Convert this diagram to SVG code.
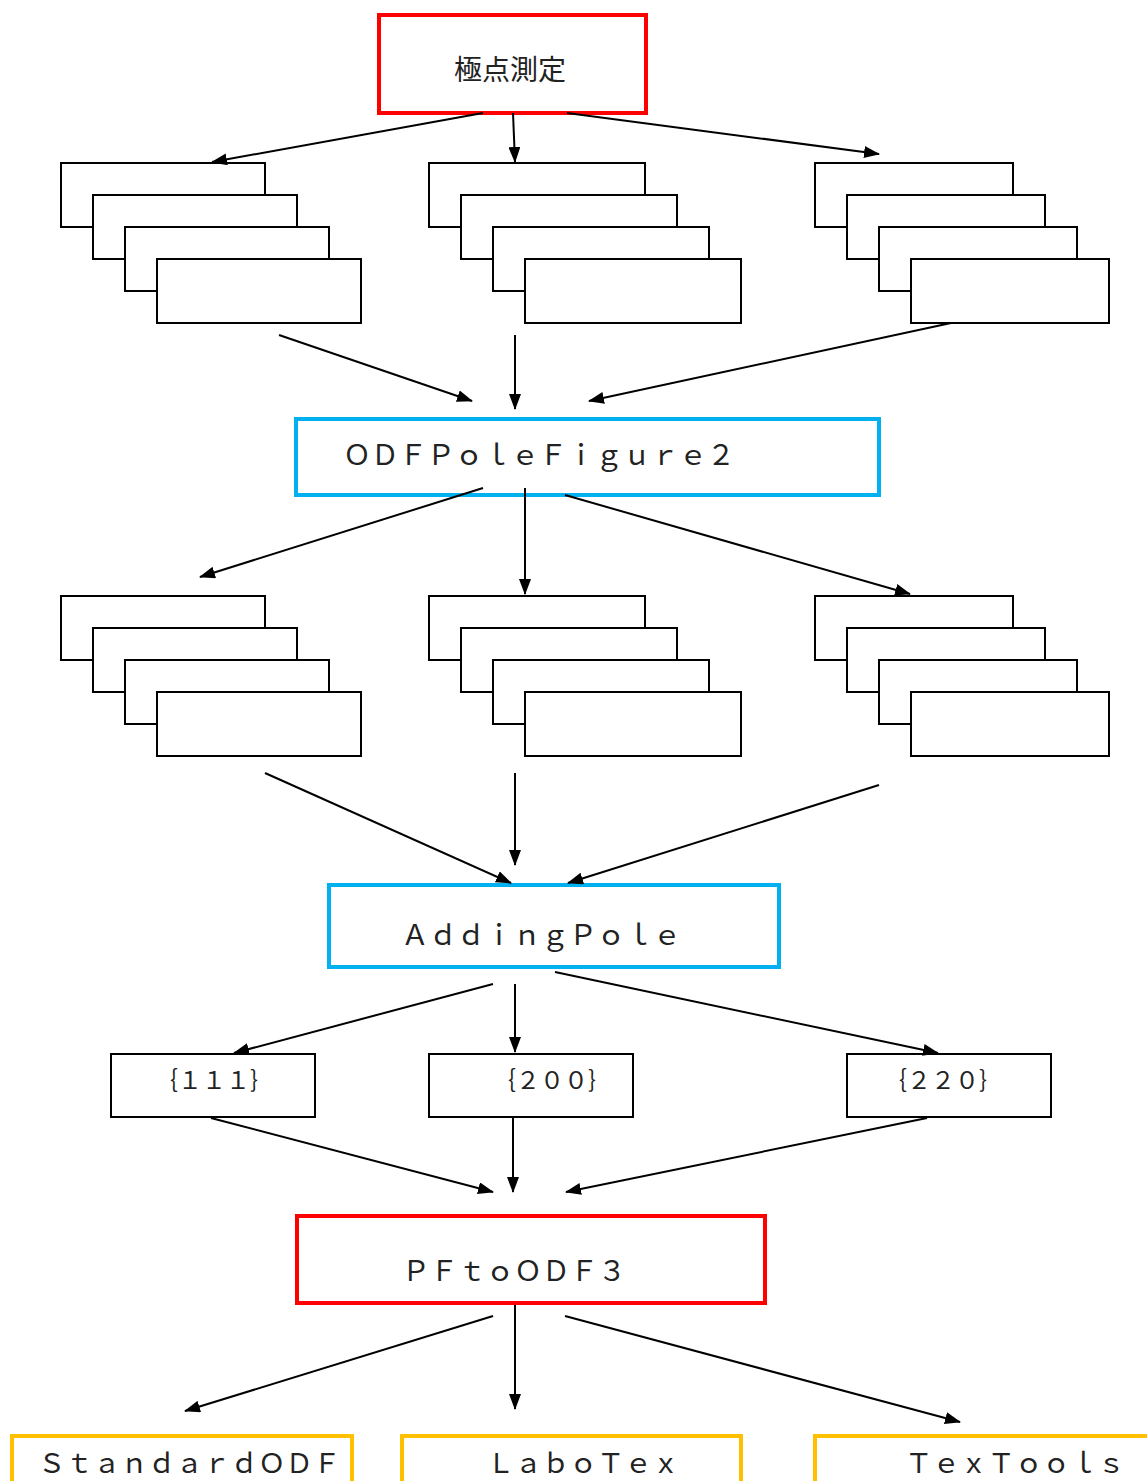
<svg xmlns="http://www.w3.org/2000/svg" width="1147" height="1481" viewBox="0 0 1147 1481">
<style>
text{font-family:"Noto Sans CJK JP","Liberation Serif",serif;fill:#222;}
.t{font-size:28px;}
.s{font-size:24px;}
.red{fill:#fff;stroke:#ff0000;stroke-width:4;}
.blue{fill:#fff;stroke:#00b0f0;stroke-width:4;}
.yel{fill:#fff;stroke:#ffc000;stroke-width:4;}
.bx{fill:#fff;stroke:#000;stroke-width:2;}
.c{stroke:#000;stroke-width:2;fill:none;marker-end:url(#ah);}
</style>
<defs>
<marker id="ah" markerUnits="userSpaceOnUse" markerWidth="16" markerHeight="12" refX="15" refY="6" orient="auto">
<path d="M0,0 L16,6 L0,12 Z" fill="#000"/>
</marker>
<g id="stackA">
<rect class="bx" x="0" y="0" width="204" height="64"/>
<rect class="bx" x="32" y="32" width="204" height="64"/>
<rect class="bx" x="64" y="64" width="204" height="64"/>
<rect class="bx" x="96" y="96" width="204" height="64"/>
</g>
<g id="stackB">
<rect class="bx" x="0" y="0" width="216" height="64"/>
<rect class="bx" x="32" y="32" width="216" height="64"/>
<rect class="bx" x="64" y="64" width="216" height="64"/>
<rect class="bx" x="96" y="96" width="216" height="64"/>
</g>
<g id="stackC">
<rect class="bx" x="0" y="0" width="198" height="64"/>
<rect class="bx" x="32" y="32" width="198" height="64"/>
<rect class="bx" x="64" y="64" width="198" height="64"/>
<rect class="bx" x="96" y="96" width="198" height="64"/>
</g>
</defs>
<rect width="1147" height="1481" fill="#fff"/>

<g id="n-kyokuten"><rect class="red" x="379" y="15" width="267" height="98"/><text class="t" x="454" y="80">極点測定</text></g>

<g id="n-stack1a"><use href="#stackA" x="61" y="163"/></g>
<g id="n-stack1b"><use href="#stackB" x="429" y="163"/></g>
<g id="n-stack1c"><use href="#stackC" x="815" y="163"/></g>

<g id="n-odfpf"><rect class="blue" x="296" y="419" width="583" height="76"/><text class="t" x="343" y="465">ＯＤＦＰｏｌｅＦｉｇｕｒｅ２</text></g>

<g id="n-stack2a"><use href="#stackA" x="61" y="596"/></g>
<g id="n-stack2b"><use href="#stackB" x="429" y="596"/></g>
<g id="n-stack2c"><use href="#stackC" x="815" y="596"/></g>

<g id="n-adding"><rect class="blue" x="329" y="885" width="450" height="82"/><text class="t" x="401" y="945">ＡｄｄｉｎｇＰｏｌｅ</text></g>

<g id="n-111"><rect class="bx" x="111" y="1054" width="204" height="63"/><text class="s" x="154" y="1089">｛１１１｝</text></g>
<g id="n-200"><rect class="bx" x="429" y="1054" width="204" height="63"/><text class="s" x="492" y="1089">｛２００｝</text></g>
<g id="n-220"><rect class="bx" x="847" y="1054" width="204" height="63"/><text class="s" x="883" y="1089">｛２２０｝</text></g>

<g id="n-pftoodf"><rect class="red" x="297" y="1216" width="468" height="87"/><text class="t" x="402" y="1281">ＰＦｔｏＯＤＦ３</text></g>

<g id="n-standard"><rect class="yel" x="12" y="1436" width="340" height="60"/><text class="t" style="font-size:27.5px" x="38" y="1473">ＳｔａｎｄａｒｄＯＤＦ</text></g>
<g id="n-labotex"><rect class="yel" x="402" y="1436" width="339" height="60"/><text class="t" style="font-size:27.5px" x="487" y="1473">ＬａｂｏＴｅｘ</text></g>
<g id="n-textools"><rect class="yel" x="815" y="1436" width="340" height="60"/><text class="t" style="font-size:27.5px" x="905" y="1473">ＴｅｘＴｏｏｌｓ</text></g>

<g id="connectors">
<line class="c" x1="483" y1="113" x2="212" y2="162"/>
<line class="c" x1="513" y1="113" x2="515" y2="162"/>
<line class="c" x1="567" y1="113" x2="879" y2="154"/>
<line class="c" x1="279" y1="335" x2="472" y2="401"/>
<line class="c" x1="515" y1="335" x2="515" y2="409"/>
<line class="c" x1="951" y1="323" x2="589" y2="401"/>
<line class="c" x1="483" y1="488" x2="200" y2="577"/>
<line class="c" x1="525" y1="488" x2="525" y2="594"/>
<line class="c" x1="565" y1="495" x2="910" y2="594"/>
<line class="c" x1="265" y1="773" x2="511" y2="883"/>
<line class="c" x1="515" y1="773" x2="515" y2="865"/>
<line class="c" x1="879" y1="785" x2="568" y2="883"/>
<line class="c" x1="493" y1="984" x2="234" y2="1053"/>
<line class="c" x1="515" y1="984" x2="515" y2="1052"/>
<line class="c" x1="555" y1="972" x2="938" y2="1053"/>
<line class="c" x1="211" y1="1118" x2="493" y2="1192"/>
<line class="c" x1="513" y1="1118" x2="513" y2="1192"/>
<line class="c" x1="927" y1="1118" x2="566" y2="1192"/>
<line class="c" x1="493" y1="1316" x2="185" y2="1411"/>
<line class="c" x1="515" y1="1305" x2="515" y2="1409"/>
<line class="c" x1="565" y1="1316" x2="960" y2="1422"/>
</g>
</svg>
